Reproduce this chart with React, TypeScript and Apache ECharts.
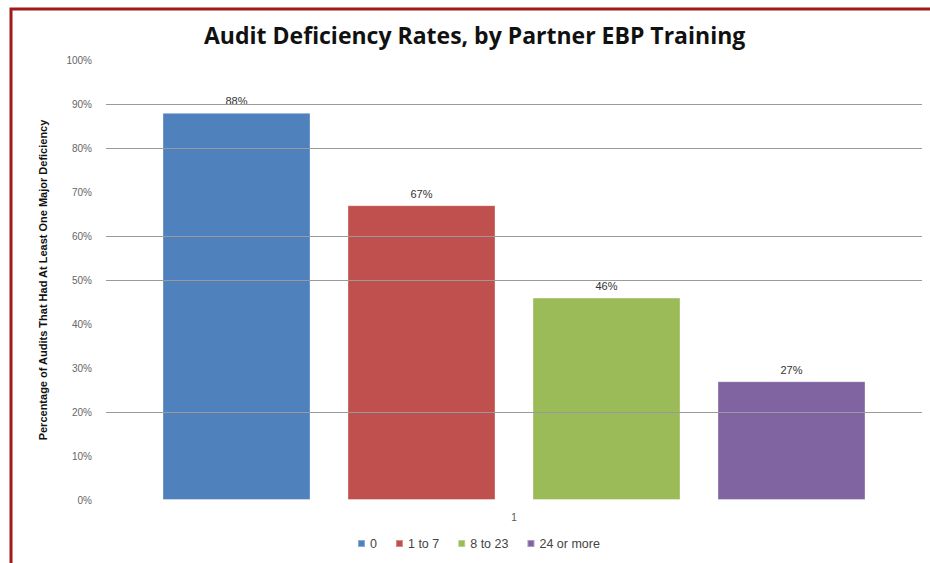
import React, { useEffect, useRef } from "react";
import * as echarts from "echarts";

const categories = ["1"];
const seriesNames = ["0", "1 to 7", "8 to 23", "24 or more"];
const seriesValues = [88, 67, 46, 27];
const seriesColors = ["#4F81BD", "#C0504D", "#9BBB59", "#8064A2"];
const gridLineLevels = [90, 80, 60, 50, 20];
const titleText = "Audit Deficiency Rates, by Partner EBP Training";
const yAxisName = "Percentage of Audits That Had At Least One Major Deficiency";

export default function App() {
  const ref = useRef<HTMLDivElement>(null);
  useEffect(() => {
    if (!ref.current) return;
    const chart = echarts.init(ref.current, null, { renderer: "svg" });
    const barSeries = seriesNames.map((name, i) => ({
      name,
      type: "bar",
      data: [seriesValues[i]],
      barWidth: 148,
      barGap: "25%",
      z: 3,
      itemStyle: { color: seriesColors[i], borderColor: "rgba(255,255,255,0.35)", borderWidth: 1 },
      label: {
        show: true,
        position: "top",
        distance: 6,
        formatter: "{c}%",
        color: "#333",
        fontSize: 11,
        fontFamily: "Liberation Sans",
      },
    }));
    chart.setOption({
      animation: false,
      backgroundColor: "#ffffff",
      title: {
        text: titleText,
        left: 199,
        top: 18,
        textStyle: { fontSize: 23, fontWeight: "bold", fontFamily: "Open Sans", color: "#111" },
      },
      graphic: [
        {
          type: "rect",
          shape: { x: 11, y: 9, width: 1000, height: 1000 },
          style: { fill: "none", stroke: "#9e1b1b", lineWidth: 3 },
          z: 10,
        },
      ],
      legend: {
        data: seriesNames,
        bottom: 8,
        left: 352,
        icon: "rect",
        itemWidth: 7,
        itemHeight: 7,
        itemGap: 18,
        textStyle: { fontSize: 12.5, color: "#444", fontFamily: "Liberation Sans" },
      },
      grid: { left: 106, right: 8, top: 60, bottom: 63 },
      xAxis: {
        type: "category",
        data: categories,
        axisLine: { show: false },
        axisTick: { show: false },
        axisLabel: { color: "#555", fontSize: 10, margin: 12, fontFamily: "Liberation Sans" },
      },
      yAxis: {
        type: "value",
        min: 0,
        max: 100,
        interval: 10,
        name: yAxisName,
        nameLocation: "middle",
        nameGap: 58,
        nameTextStyle: { fontSize: 11, fontWeight: "bold", color: "#111", fontFamily: "Liberation Sans Narrow, Liberation Sans" },
        axisLine: { show: false },
        axisTick: { show: false },
        splitLine: { show: false },
        axisLabel: { formatter: "{value}%", color: "#666", fontSize: 10, margin: 14, fontFamily: "Liberation Sans" },
      },
      series: [
        {
          name: "grid",
          type: "line",
          data: [],
          z: 1,
          silent: true,
          markLine: {
            silent: true,
            symbol: "none",
            label: { show: false },
            lineStyle: { color: "#9a9a9a", type: "solid", width: 1 },
            data: gridLineLevels.map((v) => ({ yAxis: v })),
          },
        },
        ...barSeries,
      ],
    });
    return () => chart.dispose();
  }, []);
  return <div ref={ref} style={{ position: "fixed", left: 0, top: 0, width: 930, height: 563 }} />;
}
